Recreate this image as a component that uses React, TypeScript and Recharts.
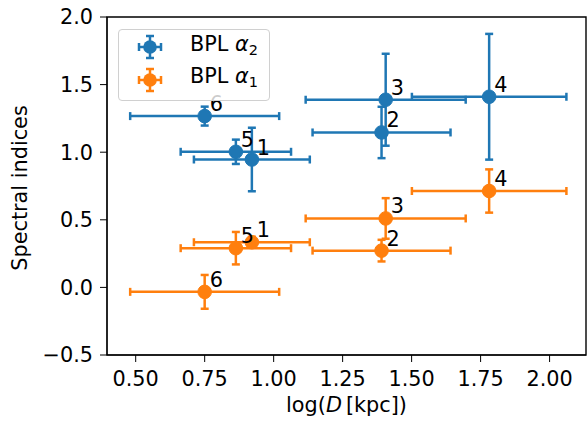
import React from 'react';
import { ScatterChart, Scatter, XAxis, YAxis, ErrorBar, ReferenceArea, Label } from 'recharts';

if (typeof document !== 'undefined') document.body.style.margin = '0';

// region labels and values
const regionIds = ['1', '2', '3', '4', '5', '6'];
const logD = [0.921, 1.391, 1.406, 1.781, 0.863, 0.75];
const logDErr = [0.21, 0.25, 0.29, 0.28, 0.2, 0.27];
const alpha2 = [0.946, 1.146, 1.388, 1.41, 1.003, 1.267];
const alpha2Err = [0.235, 0.19, 0.34, 0.465, 0.09, 0.07];
const alpha1 = [0.334, 0.272, 0.51, 0.713, 0.29, -0.033];
const alpha1Err = [0.04, 0.08, 0.15, 0.16, 0.12, 0.125];

const xTicks = [0.5, 0.75, 1.0, 1.25, 1.5, 1.75, 2.0];
const yTicks = [-0.5, 0, 0.5, 1.0, 1.5, 2.0];

const BLUE = '#1f77b4';
const ORANGE = '#ff7f0e';
const FONT = '"DejaVu Sans", sans-serif';
const FS = 20.8;
const LW = 2.5;

const makeRows = (ys: number[], yErr: number[]) =>
  regionIds.map((id, i) => ({ id, x: logD[i], y: ys[i], ex: logDErr[i], ey: yErr[i] }));

const alpha2Data = makeRows(alpha2, alpha2Err);
const alpha1Data = makeRows(alpha1, alpha1Err);

const fmtY = (v: number) => (v < 0 ? '\u2212' + Math.abs(v).toFixed(1) : v.toFixed(1));

const pointShape = (color: string) => (p: any) => (
  <g>
    <circle cx={p.cx} cy={p.cy} r={6.8} fill={color} stroke={color} strokeWidth={1} />
    <text x={p.cx + 5} y={p.cy - 5} fontSize={FS} fontFamily={FONT} fill="#000">
      {p.payload.id}
    </text>
  </g>
);

const XTitle = (props: any) => {
  const vb = props.viewBox || {};
  return (
    <text x={vb.x + vb.width / 2} y={412} textAnchor="middle" fontSize={FS} fontFamily={FONT} fill="#000">
      log(<tspan fontStyle="italic">D</tspan>
      <tspan dx={4}>[kpc])</tspan>
    </text>
  );
};

const YTitle = (props: any) => {
  const vb = props.viewBox || {};
  const cy = vb.y + vb.height / 2 + 2;
  return (
    <text x={27} y={cy} transform={`rotate(-90, 27, ${cy})`} textAnchor="middle" fontSize={FS} fontFamily={FONT} fill="#000">
      Spectral indices
    </text>
  );
};

const LegendIcon = ({ color }: { color: string }) => (
  <svg width={26} height={26} style={{ display: 'block' }}>
    <g stroke={color} strokeWidth={LW}>
      <line x1={2} y1={13} x2={24} y2={13} />
      <line x1={2} y1={9} x2={2} y2={17} />
      <line x1={24} y1={9} x2={24} y2={17} />
      <line x1={13} y1={2} x2={13} y2={24} />
      <line x1={9} y1={2} x2={17} y2={2} />
      <line x1={9} y1={24} x2={17} y2={24} />
    </g>
    <circle cx={13} cy={13} r={6.8} fill={color} />
  </svg>
);

const legendItems = [
  { color: BLUE, sub: '2' },
  { color: ORANGE, sub: '1' },
];

export default function App() {
  return (
    <div style={{ position: 'relative', width: 587, height: 421, background: '#fff' }}>
      <ScatterChart width={587} height={421} margin={{ top: 17, right: 1, left: 0, bottom: 0 }}>
        <XAxis
          type="number"
          dataKey="x"
          domain={[0.396, 2.132]}
          ticks={xTicks}
          tickFormatter={(v: number) => v.toFixed(2)}
          allowDataOverflow
          height={66}
          tickSize={7}
          tickMargin={9}
          stroke="#000"
          tick={{ fill: '#000', fontSize: FS, fontFamily: FONT }}
        >
          <Label content={XTitle} />
        </XAxis>
        <YAxis
          type="number"
          dataKey="y"
          domain={[-0.5, 2.0]}
          ticks={yTicks}
          tickFormatter={fmtY}
          allowDataOverflow
          width={107}
          tickSize={7}
          tickMargin={7}
          stroke="#000"
          tick={{ fill: '#000', fontSize: FS, fontFamily: FONT }}
        >
          <Label content={YTitle} />
        </YAxis>
        <ReferenceArea x1={0.396} x2={2.132} y1={-0.5} y2={2.0} fill="none" stroke="#000" strokeWidth={1.4} ifOverflow="extendDomain" />
        <Scatter data={alpha2Data} fill={BLUE} shape={pointShape(BLUE)} isAnimationActive={false}>
          <ErrorBar dataKey="ex" direction="x" width={4} stroke={BLUE} strokeWidth={LW} isAnimationActive={false} />
          <ErrorBar dataKey="ey" direction="y" width={4} stroke={BLUE} strokeWidth={LW} isAnimationActive={false} />
        </Scatter>
        <Scatter data={alpha1Data} fill={ORANGE} shape={pointShape(ORANGE)} isAnimationActive={false}>
          <ErrorBar dataKey="ex" direction="x" width={4} stroke={ORANGE} strokeWidth={LW} isAnimationActive={false} />
          <ErrorBar dataKey="ey" direction="y" width={4} stroke={ORANGE} strokeWidth={LW} isAnimationActive={false} />
        </Scatter>
      </ScatterChart>
      <div
        style={{
          position: 'absolute',
          left: 118,
          top: 29,
          width: 150,
          height: 70,
          border: '1px solid #d0d0d0',
          borderRadius: 4,
          background: 'rgba(255,255,255,0.8)',
          fontFamily: FONT,
          fontSize: FS,
        }}
      >
        {legendItems.map((it, i) => (
          <div key={i} style={{ position: 'absolute', left: 18, top: 4 + i * 32.6, height: 26, display: 'flex', alignItems: 'center' }}>
            <LegendIcon color={it.color} />
            <span style={{ marginLeft: 27, whiteSpace: 'nowrap', lineHeight: '26px' }}>
              BPL <i>α</i>
              <sub style={{ fontSize: 14.5, verticalAlign: '-0.3em' }}>{it.sub}</sub>
            </span>
          </div>
        ))}
      </div>
    </div>
  );
}
